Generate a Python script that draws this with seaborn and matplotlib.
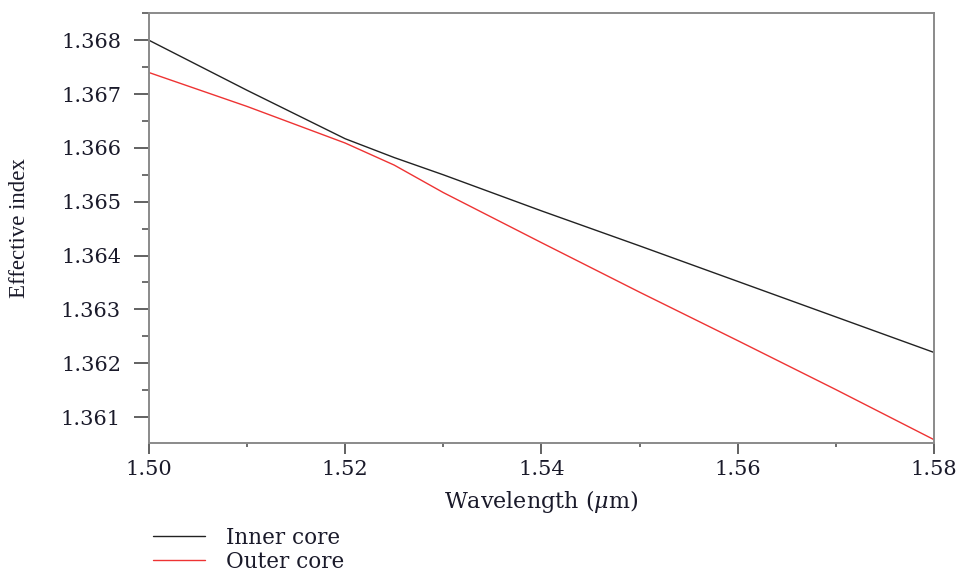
import matplotlib
matplotlib.use("Agg")
import matplotlib.pyplot as plt
import seaborn as sns
import pandas as pd
from matplotlib.ticker import MultipleLocator
from matplotlib.lines import Line2D

wavelength = [1.50, 1.51, 1.52, 1.525, 1.53, 1.54, 1.55, 1.56, 1.57, 1.58]
inner_core = [1.3680, 1.36707, 1.36617, 1.36582, 1.36550, 1.36483, 1.36418, 1.36352, 1.36286, 1.36220]
outer_core = [1.3674, 1.36677, 1.36609, 1.36568, 1.36517, 1.36424, 1.36332, 1.36242, 1.36151, 1.36058]
series_names = ["Inner core", "Outer core"]
x_ticks = [1.50, 1.52, 1.54, 1.56, 1.58]
y_ticks = [1.361, 1.362, 1.363, 1.364, 1.365, 1.366, 1.367, 1.368]

df = pd.DataFrame({
    "Wavelength": wavelength * 2,
    "Index": inner_core + outer_core,
    "Series": [series_names[0]] * len(wavelength) + [series_names[1]] * len(wavelength),
})

sns.set_theme(style="white")
plt.rcParams["font.family"] = ["DejaVu Serif"]
plt.rcParams["mathtext.fontset"] = "dejavuserif"

TXT = "#1a1a2a"
fig = plt.figure(figsize=(9.6, 5.76), dpi=100)
ax = fig.add_axes([0.155, 0.231, 0.818, 0.746])

sns.lineplot(data=df, x="Wavelength", y="Index", hue="Series",
             palette={"Inner core": "#222222", "Outer core": "#ee3333"},
             linewidth=1.0, ax=ax, legend=False)

ax.set_xlim(1.50, 1.58)
ax.set_ylim(1.36052, 1.3685)
ax.set_xticks(x_ticks)
ax.set_xticklabels([f"{v:.2f}" for v in x_ticks])
ax.set_yticks(y_ticks)
ax.set_yticklabels([f"{v:.3f}" for v in y_ticks])
ax.xaxis.set_minor_locator(MultipleLocator(0.01))
ax.yaxis.set_minor_locator(MultipleLocator(0.0005))

for s in ax.spines.values():
    s.set_color("#8a8a8a")
    s.set_linewidth(1.4)

ax.tick_params(axis="both", which="both", left=True, bottom=True, direction="out",
               color="#555555")
ax.tick_params(axis="both", which="major", width=1.3, labelsize=15, labelcolor=TXT)
ax.tick_params(axis="y", which="major", length=11, pad=9)
ax.tick_params(axis="x", which="major", length=8, pad=4)
ax.tick_params(axis="y", which="minor", length=5, width=1.2)
ax.tick_params(axis="x", which="minor", length=3, width=1.2)

ax.set_xlabel(r"Wavelength ($\mu$m)", fontsize=16, color=TXT, labelpad=7)
ax.set_ylabel("Effective index", fontsize=16.5, color=TXT, labelpad=22,
              family=["Liberation Serif"])

handles = [Line2D([0], [0], color="#222222", lw=1.0),
           Line2D([0], [0], color="#ee3333", lw=1.0)]
fig.legend(handles, series_names, loc="upper left", bbox_to_anchor=(0.145, 0.11),
           frameon=False, fontsize=15.5, handlelength=2.4, handletextpad=1.0,
           labelspacing=0.1, labelcolor=TXT, borderpad=0.15)

fig.savefig("out.png", dpi=100)
